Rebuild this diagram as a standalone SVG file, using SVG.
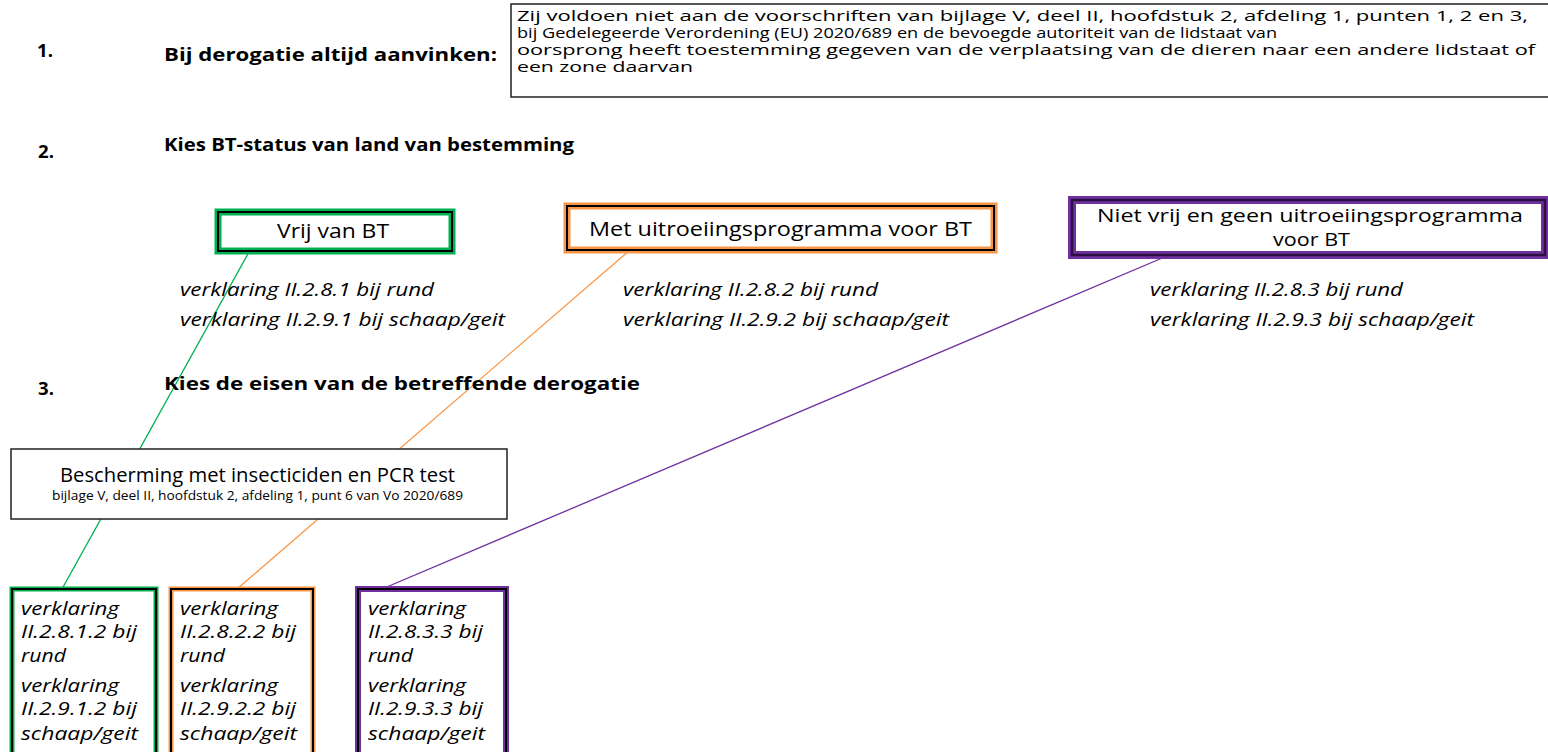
<svg xmlns="http://www.w3.org/2000/svg" width="1548" height="752" viewBox="0 0 1548 752">
<style>
text{font-family:"Open Sans","Noto Sans","Liberation Sans",sans-serif;fill:#000}
.h{font-weight:bold;font-size:17px}
.t{font-size:15px}
.n{font-size:19.5px}
.n2{font-size:18px}
.i{font-style:italic;font-size:18px}
.box{fill:#fff;stroke:#222;stroke-width:1.5}
.in{fill:none;stroke:#000;stroke-width:2}
</style>
<rect width="1548" height="752" fill="#fff"/>
<g id="connectors" fill="none" stroke-width="1.3">
<line x1="249" y1="252" x2="62" y2="589" stroke="#00b050"/>
<line x1="630" y1="250" x2="237" y2="589" stroke="#f79646"/>
<line x1="1167" y1="256" x2="382" y2="589" stroke="#7030a0"/>
</g>
<g id="step1">
<text class="h" x="37" y="57" textLength="16" lengthAdjust="spacingAndGlyphs">1.</text>
<text class="h" x="164" y="61" textLength="333" lengthAdjust="spacingAndGlyphs">Bij derogatie altijd aanvinken:</text>
</g>
<g id="condition">
<rect class="box" x="511" y="4" width="1060" height="93"/>
<text class="t" x="517" y="21" textLength="1011" lengthAdjust="spacingAndGlyphs">Zij voldoen niet aan de voorschriften van bijlage V, deel II, hoofdstuk 2, afdeling 1, punten 1, 2 en 3,</text>
<text class="t" x="517" y="38" textLength="760" lengthAdjust="spacingAndGlyphs">bij Gedelegeerde Verordening (EU) 2020/689 en de bevoegde autoriteit van de lidstaat van</text>
<text class="t" x="517" y="55" textLength="1018" lengthAdjust="spacingAndGlyphs">oorsprong heeft toestemming gegeven van de verplaatsing van de dieren naar een andere lidstaat of</text>
<text class="t" x="517" y="72" textLength="176" lengthAdjust="spacingAndGlyphs">een zone daarvan</text>
</g>
<g id="step2">
<text class="h" x="38" y="158" textLength="16" lengthAdjust="spacingAndGlyphs">2.</text>
<text class="h" x="164" y="151" textLength="410" lengthAdjust="spacingAndGlyphs">Kies BT-status van land van bestemming</text>
</g>
<g id="vrij">
<rect x="218" y="212" width="234" height="39" fill="#fff" stroke="#00b050" stroke-width="7"/>
<rect class="in" x="218" y="212" width="234" height="39"/>
<text class="n" x="277" y="238" textLength="112" lengthAdjust="spacingAndGlyphs">Vrij van BT</text>
</g>
<g id="met">
<rect x="567" y="206" width="427" height="44" fill="#fff" stroke="#f79646" stroke-width="7"/>
<rect class="in" x="567" y="206" width="427" height="44"/>
<text class="n" x="589" y="236" textLength="383" lengthAdjust="spacingAndGlyphs">Met uitroeiingsprogramma voor BT</text>
</g>
<g id="niet">
<rect x="1072" y="200" width="473" height="55" fill="#fff" stroke="#7030a0" stroke-width="8"/>
<rect x="1072" y="200" width="473" height="55" fill="none" stroke="#2b1040" stroke-width="2.5"/>
<text class="n2" x="1097" y="222" textLength="426" lengthAdjust="spacingAndGlyphs">Niet vrij en geen uitroeiingsprogramma</text>
<text class="n2" x="1273" y="246" textLength="77" lengthAdjust="spacingAndGlyphs">voor BT</text>
</g>
<g id="verklaringen">
<text class="i" x="180" y="296" textLength="254" lengthAdjust="spacingAndGlyphs">verklaring II.2.8.1 bij rund</text>
<text class="i" x="180" y="326" textLength="325" lengthAdjust="spacingAndGlyphs">verklaring II.2.9.1 bij schaap/geit</text>
<text class="i" x="623" y="296" textLength="255" lengthAdjust="spacingAndGlyphs">verklaring II.2.8.2 bij rund</text>
<text class="i" x="623" y="326" textLength="326" lengthAdjust="spacingAndGlyphs">verklaring II.2.9.2 bij schaap/geit</text>
<text class="i" x="1150" y="296" textLength="253" lengthAdjust="spacingAndGlyphs">verklaring II.2.8.3 bij rund</text>
<text class="i" x="1150" y="326" textLength="324" lengthAdjust="spacingAndGlyphs">verklaring II.2.9.3 bij schaap/geit</text>
</g>
<g id="step3">
<text class="h" x="38" y="395" textLength="16" lengthAdjust="spacingAndGlyphs">3.</text>
<text class="h" x="164" y="390" textLength="476" lengthAdjust="spacingAndGlyphs">Kies de eisen van de betreffende derogatie</text>
</g>
<g id="bescherming">
<rect class="box" x="11" y="449" width="496" height="70"/>
<text class="n" x="60" y="482" textLength="395" lengthAdjust="spacingAndGlyphs">Bescherming met insecticiden en PCR test</text>
<text x="52" y="500" font-size="12" textLength="411" lengthAdjust="spacingAndGlyphs">bijlage V, deel II, hoofdstuk 2, afdeling 1, punt 6 van Vo 2020/689</text>
</g>
<g id="b-groen">
<rect x="12" y="589" width="144" height="200" fill="#fff" stroke="#00b050" stroke-width="5"/>
<rect class="in" x="12" y="589" width="144" height="200"/>
<text class="i" x="21" y="615" textLength="98" lengthAdjust="spacingAndGlyphs">verklaring</text>
<text class="i" x="21" y="638" textLength="116" lengthAdjust="spacingAndGlyphs">II.2.8.1.2 bij</text>
<text class="i" x="21" y="662" textLength="45" lengthAdjust="spacingAndGlyphs">rund</text>
<text class="i" x="21" y="692" textLength="98" lengthAdjust="spacingAndGlyphs">verklaring</text>
<text class="i" x="21" y="715" textLength="116" lengthAdjust="spacingAndGlyphs">II.2.9.1.2 bij</text>
<text class="i" x="21" y="740" textLength="117" lengthAdjust="spacingAndGlyphs">schaap/geit</text>
</g>
<g id="b-oranje">
<rect x="171" y="589" width="142" height="200" fill="#fff" stroke="#f79646" stroke-width="5"/>
<rect class="in" x="171" y="589" width="142" height="200"/>
<text class="i" x="180" y="615" textLength="98" lengthAdjust="spacingAndGlyphs">verklaring</text>
<text class="i" x="180" y="638" textLength="116" lengthAdjust="spacingAndGlyphs">II.2.8.2.2 bij</text>
<text class="i" x="180" y="662" textLength="45" lengthAdjust="spacingAndGlyphs">rund</text>
<text class="i" x="180" y="692" textLength="98" lengthAdjust="spacingAndGlyphs">verklaring</text>
<text class="i" x="180" y="715" textLength="116" lengthAdjust="spacingAndGlyphs">II.2.9.2.2 bij</text>
<text class="i" x="180" y="740" textLength="117" lengthAdjust="spacingAndGlyphs">schaap/geit</text>
</g>
<g id="b-paars">
<rect x="358" y="589" width="148" height="200" fill="#fff" stroke="#7030a0" stroke-width="6"/>
<rect class="in" x="358" y="589" width="148" height="200" stroke="#2b1040"/>
<text class="i" x="368" y="615" textLength="98" lengthAdjust="spacingAndGlyphs">verklaring</text>
<text class="i" x="368" y="638" textLength="115" lengthAdjust="spacingAndGlyphs">II.2.8.3.3 bij</text>
<text class="i" x="368" y="662" textLength="45" lengthAdjust="spacingAndGlyphs">rund</text>
<text class="i" x="368" y="692" textLength="98" lengthAdjust="spacingAndGlyphs">verklaring</text>
<text class="i" x="368" y="715" textLength="115" lengthAdjust="spacingAndGlyphs">II.2.9.3.3 bij</text>
<text class="i" x="368" y="740" textLength="117" lengthAdjust="spacingAndGlyphs">schaap/geit</text>
</g>
</svg>
